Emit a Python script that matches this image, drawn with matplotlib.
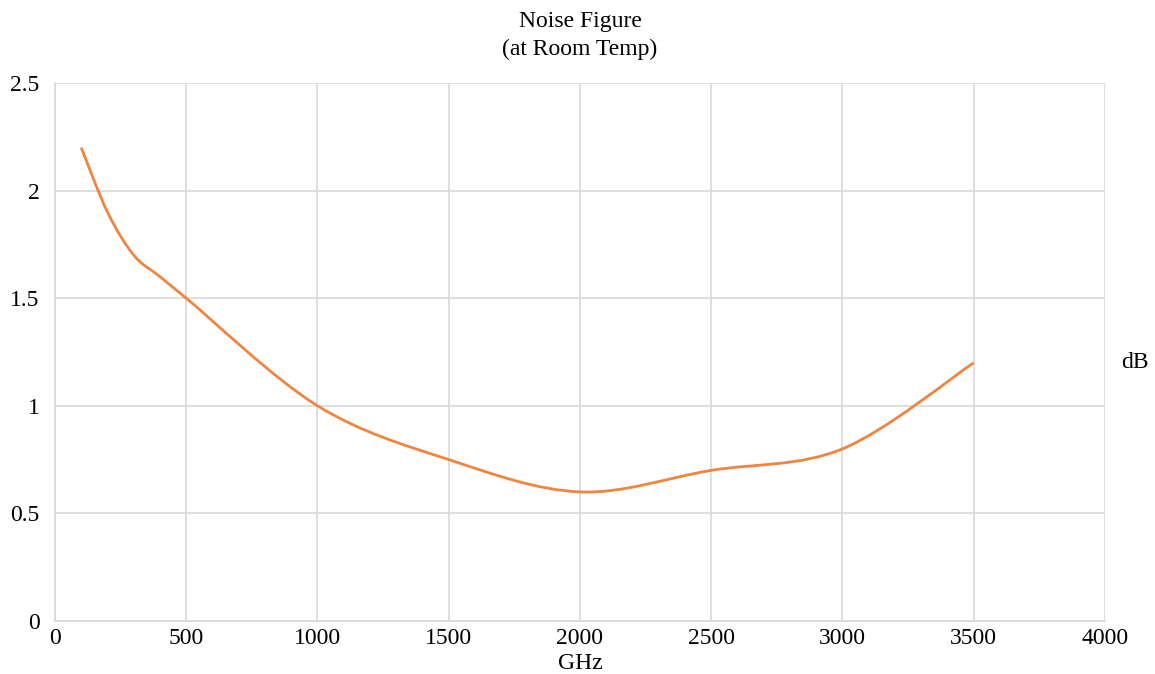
import numpy as np
import matplotlib
matplotlib.use("Agg")
import matplotlib.pyplot as plt
from matplotlib.path import Path
from matplotlib.patches import PathPatch

# data
freq_ghz = [100, 200, 300, 400, 500, 1000, 1500, 2000, 2500, 3000, 3500]
noise_db = [2.2, 1.9, 1.7, 1.6, 1.5, 1.0, 0.75, 0.6, 0.7, 0.8, 1.2]

LINE_COLOR = '#EF8540'
GRID_COLOR = '#D9D9D9'

plt.rcParams['font.family'] = ['Liberation Serif', 'DejaVu Serif']


def smooth_path(xs, ys):
    # Excel-style smoothed line: cubic bezier with tangents from neighbours
    pts = np.column_stack([xs, ys]).astype(float)
    n = len(pts)
    verts = [pts[0]]
    codes = [Path.MOVETO]
    for i in range(n - 1):
        p0 = pts[i - 1] if i > 0 else pts[i]
        p1 = pts[i]
        p2 = pts[i + 1]
        p3 = pts[i + 2] if i + 2 < n else pts[i + 1]
        c1 = p1 + (p2 - p0) / 6.0
        c2 = p2 - (p3 - p1) / 6.0
        verts += [c1, c2, p2]
        codes += [Path.CURVE4] * 3
    return Path(verts, codes)


fig = plt.figure(figsize=(11.55, 6.74), dpi=100)
ax = fig.add_axes([0.0476, 0.0786, 0.9091, 0.7983])

patch = PathPatch(smooth_path(freq_ghz, noise_db), facecolor='none',
                  edgecolor=LINE_COLOR, lw=2.0, capstyle='butt')
ax.add_patch(patch)

ax.set_xlim(0, 4000)
ax.set_ylim(0, 2.5)
ax.set_xticks(np.arange(0, 4001, 500))
ax.set_yticks([0, 0.5, 1, 1.5, 2, 2.5])
ax.set_yticklabels(['0', '0.5', '1', '1.5', '2', '2.5'])
ax.grid(True, color=GRID_COLOR, lw=1.2)
ax.set_axisbelow(True)
for s in ['top', 'right']:
    ax.spines[s].set_visible(False)
for s in ['left', 'bottom']:
    ax.spines[s].set_color(GRID_COLOR)
    ax.spines[s].set_linewidth(1.2)
ax.tick_params(length=0, labelsize=17, colors='black')
ax.tick_params(axis='y', pad=11)
ax.tick_params(axis='x', pad=5)

ax.set_xlabel('GHz', fontsize=17, labelpad=3)
ax.yaxis.set_label_position('right')
ax.set_ylabel('dB', fontsize=17, rotation=0, va='center', ha='center')
ax.yaxis.set_label_coords(1.0286, 0.481)
ax.set_title('Noise Figure\n(at Room Temp)', fontsize=17, pad=20, linespacing=1.45)

fig.savefig('out.png', dpi=100)
